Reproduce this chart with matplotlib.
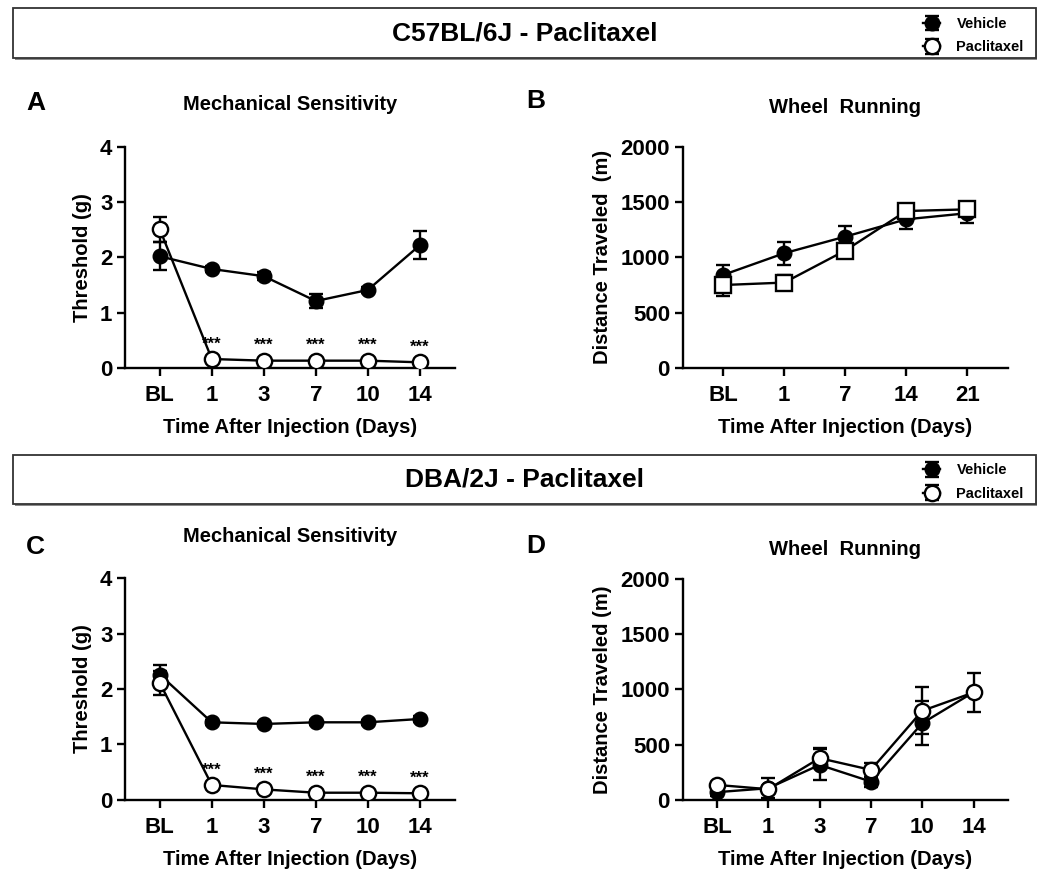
import matplotlib.pyplot as plt
from matplotlib.patches import Rectangle

plt.rcParams['font.family'] = ['Liberation Sans', 'DejaVu Sans']
plt.rcParams['font.weight'] = 'bold'
plt.rcParams['axes.labelweight'] = 'bold'

# --- data (mean, SEM) ---
MECH_DAYS = ['BL', '1', '3', '7', '10', '14']
WHEEL_DAYS_B = ['BL', '1', '7', '14', '21']
WHEEL_DAYS_D = ['BL', '1', '3', '7', '10', '14']

# A: C57BL/6J mechanical sensitivity
A_veh = [2.02, 1.79, 1.66, 1.21, 1.41, 2.22]
A_veh_err = [0.25, 0.05, 0.07, 0.13, 0.05, 0.25]
A_pac = [2.51, 0.16, 0.13, 0.13, 0.13, 0.10]
A_pac_err = [0.23, 0.03, 0.03, 0.03, 0.03, 0.03]
A_sig = ['', '***', '***', '***', '***', '***']

# B: C57BL/6J wheel running
B_veh = [842, 1038, 1188, 1345, 1400]
B_veh_err = [90, 105, 100, 85, 90]
B_pac = [750, 772, 1062, 1420, 1435]
B_pac_err = [100, 70, 60, 50, 40]

# C: DBA/2J mechanical sensitivity
C_veh = [2.26, 1.40, 1.37, 1.40, 1.40, 1.46]
C_veh_err = [0.18, 0.04, 0.04, 0.04, 0.04, 0.06]
C_pac = [2.11, 0.27, 0.19, 0.13, 0.13, 0.12]
C_pac_err = [0.22, 0.03, 0.03, 0.03, 0.03, 0.03]
C_sig = ['', '***', '***', '***', '***', '***']

# D: DBA/2J wheel running
D_veh = [70, 106, 317, 166, 695, 975]
D_veh_err = [30, 90, 140, 45, 197, 20]
D_pac = [136, 97, 378, 272, 807, 973]
D_pac_err = [20, 20, 90, 65, 214, 178]


def draw_panel(ax, days, veh, veh_err, pac, pac_err, pac_marker, ymax, ystep,
               ylabel, title, letter, title_y, letter_xy, sig=None):
    x = list(range(len(days)))
    h_veh = ax.errorbar(x, veh, yerr=veh_err, color='black', marker='o', ms=10.5,
                        mfc='black', mec='black', lw=1.7, elinewidth=1.7,
                        capsize=5, capthick=1.7, zorder=3)
    h_pac = ax.errorbar(x, pac, yerr=pac_err, color='black', marker=pac_marker,
                        ms=11, mfc='white', mec='black', mew=1.7, lw=1.7,
                        elinewidth=1.7, capsize=5, capthick=1.7, zorder=4)
    if sig is not None:
        for xi, yi, s in zip(x, pac, sig):
            if s:
                ax.text(xi, yi + 0.27 * ymax / 4, s, ha='center', va='center',
                        fontsize=12)
    ax.set_xlim(-0.67, len(days) - 0.33)
    ax.set_ylim(0, ymax)
    ax.set_xticks(x)
    ax.set_xticklabels(days)
    ax.set_yticks(range(0, ymax + 1, ystep))
    ax.spines['top'].set_visible(False)
    ax.spines['right'].set_visible(False)
    for sp in ('left', 'bottom'):
        ax.spines[sp].set_linewidth(1.7)
    ax.tick_params(direction='out', length=6, width=1.7, labelsize=16)
    ax.tick_params(axis='x', pad=6)
    ax.tick_params(axis='y', pad=3)
    ax.set_ylabel(ylabel, fontsize=14.5, labelpad=6)
    ax.set_xlabel('Time After Injection (Days)', fontsize=14.5, labelpad=9)
    ax.text(0.5, title_y, title, transform=ax.transAxes, ha='center',
            va='center', fontsize=14.5, fontweight='bold')
    ax.text(letter_xy[0], letter_xy[1], letter, transform=ax.transAxes,
            fontsize=19, fontweight='bold', ha='left', va='center')
    return h_veh, h_pac


def header(fig, bottom, height, title, handles):
    left, width = 0.0124, 0.974
    shadow = Rectangle((left + 0.0015, bottom - 0.0025), width, height,
                       transform=fig.transFigure, facecolor='#8a8a8a',
                       edgecolor='none', zorder=1)
    box = Rectangle((left, bottom), width, height, transform=fig.transFigure,
                    facecolor='white', edgecolor='#333333', lw=1.3, zorder=2)
    fig.add_artist(shadow)
    fig.add_artist(box)
    fig.text(left + width / 2, bottom + height / 2, title, ha='center',
             va='center', fontsize=19, fontweight='bold', zorder=3)
    fig.legend(handles, ['Vehicle', 'Paclitaxel'], loc='center left',
               bbox_to_anchor=(0.879, bottom + height / 2 - 0.003),
               frameon=False, handlelength=1.2, handletextpad=1.1,
               labelspacing=0.65, borderaxespad=0, borderpad=0,
               prop={'weight': 'bold', 'size': 10.5})


fig = plt.figure(figsize=(10.5, 8.8), dpi=100)

axA = fig.add_axes([0.119, 0.582, 0.314, 0.251])
axB = fig.add_axes([0.650, 0.582, 0.310, 0.251])
axC = fig.add_axes([0.119, 0.091, 0.314, 0.252])
axD = fig.add_axes([0.650, 0.091, 0.310, 0.251])

hA = draw_panel(axA, MECH_DAYS, A_veh, A_veh_err, A_pac, A_pac_err, 'o', 4, 1,
                'Threshold (g)', 'Mechanical Sensitivity', 'A', 1.19,
                (-0.30, 1.20), A_sig)
draw_panel(axB, WHEEL_DAYS_B, B_veh, B_veh_err, B_pac, B_pac_err, 's', 2000,
           500, 'Distance Traveled  (m)', 'Wheel  Running', 'B', 1.18,
           (-0.48, 1.21))
hC = draw_panel(axC, MECH_DAYS, C_veh, C_veh_err, C_pac, C_pac_err, 'o', 4, 1,
                'Threshold (g)', 'Mechanical Sensitivity', 'C', 1.19,
                (-0.30, 1.14), C_sig)
draw_panel(axD, WHEEL_DAYS_D, D_veh, D_veh_err, D_pac, D_pac_err, 'o', 2000,
           500, 'Distance Traveled (m)', 'Wheel  Running', 'D', 1.135,
           (-0.48, 1.15))

header(fig, 0.934, 0.0568, 'C57BL/6J - Paclitaxel', hA)
header(fig, 0.4273, 0.0557, 'DBA/2J - Paclitaxel', hC)

fig.savefig('out.png', dpi=100, facecolor='white')
